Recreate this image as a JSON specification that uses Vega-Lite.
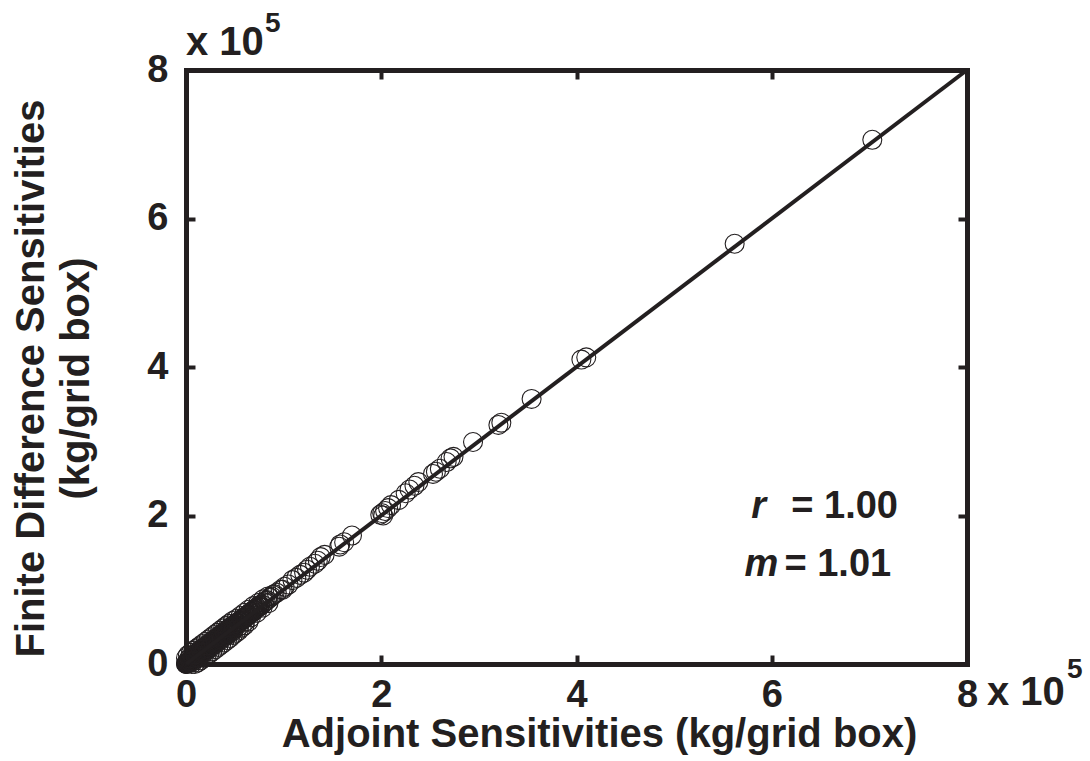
{
  "$schema": "https://vega.github.io/schema/vega-lite/v6.json",
  "autosize": "none",
  "padding": {"left": 186, "top": 70, "right": 123, "bottom": 97},
  "width": 781,
  "height": 594,
  "background": "white",
  "config": {
    "view": {"stroke": null},
    "font": "Liberation Sans",
    "axis": {
      "grid": false,
      "domainColor": "#231f20",
      "domainWidth": 5,
      "domainCap": "square",
      "tickColor": "#231f20",
      "tickWidth": 4,
      "tickSize": -9,
      "labelFont": "Liberation Sans",
      "labelFontSize": 38,
      "labelFontWeight": "bold",
      "labelColor": "#231f20",
      "titleFont": "Liberation Sans",
      "titleFontSize": 40,
      "titleFontWeight": "bold",
      "titleColor": "#231f20"
    }
  },
  "datasets": {
    "pts": [
      {"a":7.03,"f":7.06},{"a":5.62,"f":5.66},{"a":4.05,"f":4.10},{"a":4.10,"f":4.13},{"a":3.54,"f":3.57},
      {"a":3.20,"f":3.22},{"a":3.23,"f":3.25},{"a":2.94,"f":2.99},{"a":2.74,"f":2.79},{"a":2.71,"f":2.77},
      {"a":2.67,"f":2.72},{"a":2.60,"f":2.63},{"a":2.56,"f":2.59},{"a":2.53,"f":2.56},{"a":2.38,"f":2.45},
      {"a":2.34,"f":2.40},{"a":2.29,"f":2.35},{"a":2.25,"f":2.30},{"a":2.18,"f":2.21},{"a":2.10,"f":2.14},
      {"a":2.07,"f":2.10},{"a":2.04,"f":2.06},{"a":2.01,"f":2.03},{"a":1.99,"f":2.01},{"a":2.02,"f":2.00},
      {"a":1.70,"f":1.73},{"a":1.62,"f":1.64},{"a":1.58,"f":1.61},{"a":1.57,"f":1.58},{"a":1.42,"f":1.47},
      {"a":1.38,"f":1.44},{"a":1.35,"f":1.39},{"a":1.32,"f":1.35},{"a":1.27,"f":1.31},{"a":1.24,"f":1.27},
      {"a":1.21,"f":1.23},{"a":1.17,"f":1.20},{"a":1.13,"f":1.16},{"a":1.09,"f":1.13},{"a":1.05,"f":1.07},
      {"a":1.01,"f":1.04},{"a":0.99,"f":1.00},{"a":0.97,"f":1.00},{"a":0.93,"f":0.96},{"a":0.89,"f":0.93},
      {"a":0.86,"f":0.89},{"a":0.83,"f":0.86},{"a":0.80,"f":0.83},{"a":0.78,"f":0.80},{"a":0.76,"f":0.79},
      {"a":0.73,"f":0.76},{"a":0.71,"f":0.74},{"a":0.69,"f":0.71},{"a":0.67,"f":0.70},{"a":0.65,"f":0.67},
      {"a":0.63,"f":0.66},{"a":0.61,"f":0.63},{"a":0.59,"f":0.62},{"a":0.57,"f":0.59},{"a":0.55,"f":0.58},
      {"a":0.53,"f":0.55},{"a":0.52,"f":0.55},{"a":0.51,"f":0.52},{"a":0.50,"f":0.53},{"a":0.49,"f":0.50},
      {"a":0.48,"f":0.51},{"a":0.47,"f":0.50},{"a":0.46,"f":0.47},{"a":0.45,"f":0.48},{"a":0.44,"f":0.44},
      {"a":0.43,"f":0.46},{"a":0.42,"f":0.43},{"a":0.41,"f":0.44},{"a":0.40,"f":0.41},{"a":0.39,"f":0.42},
      {"a":0.38,"f":0.38},{"a":0.37,"f":0.40},{"a":0.36,"f":0.37},{"a":0.35,"f":0.38},{"a":0.34,"f":0.34},
      {"a":0.33,"f":0.36},{"a":0.32,"f":0.33},{"a":0.31,"f":0.33},{"a":0.30,"f":0.30},{"a":0.29,"f":0.32},
      {"a":0.28,"f":0.29},{"a":0.27,"f":0.28},{"a":0.26,"f":0.26},{"a":0.25,"f":0.27},{"a":0.24,"f":0.24},
      {"a":0.23,"f":0.25},{"a":0.22,"f":0.22},{"a":0.21,"f":0.23},{"a":0.20,"f":0.20},{"a":0.195,"f":0.21},
      {"a":0.19,"f":0.19},{"a":0.185,"f":0.20},{"a":0.18,"f":0.18},{"a":0.175,"f":0.19},{"a":0.17,"f":0.17},
      {"a":0.165,"f":0.18},{"a":0.16,"f":0.16},{"a":0.155,"f":0.17},{"a":0.15,"f":0.15},{"a":0.145,"f":0.16},
      {"a":0.14,"f":0.14},{"a":0.135,"f":0.15},{"a":0.13,"f":0.13},{"a":0.125,"f":0.14},{"a":0.12,"f":0.12},
      {"a":0.115,"f":0.12},{"a":0.11,"f":0.11},{"a":0.105,"f":0.11},{"a":0.10,"f":0.10},{"a":0.095,"f":0.10},
      {"a":0.09,"f":0.09},{"a":0.085,"f":0.09},{"a":0.08,"f":0.08},{"a":0.075,"f":0.08},{"a":0.07,"f":0.07},
      {"a":0.065,"f":0.07},{"a":0.06,"f":0.06},{"a":0.055,"f":0.06},{"a":0.05,"f":0.05},{"a":0.045,"f":0.05},
      {"a":0.04,"f":0.04},{"a":0.035,"f":0.04},{"a":0.03,"f":0.03},{"a":0.025,"f":0.03},{"a":0.02,"f":0.02},
      {"a":0.015,"f":0.02},{"a":0.01,"f":0.01},{"a":0.005,"f":0.01},{"a":0.0,"f":0.0},{"a":0.002,"f":0.004},
      {"a":0.004,"f":0.002},{"a":0.008,"f":0.006},{"a":0.012,"f":0.014},{"a":0.018,"f":0.016},{"a":0.022,"f":0.025},
      {"a":0.028,"f":0.027},{"a":0.032,"f":0.035},{"a":0.038,"f":0.037},{"a":0.042,"f":0.046},{"a":0.048,"f":0.047},
      {"a":0.052,"f":0.056},{"a":0.058,"f":0.057},{"a":0.062,"f":0.066},{"a":0.068,"f":0.067},{"a":0.072,"f":0.076},
      {"a":0.078,"f":0.077},{"a":0.082,"f":0.087},{"a":0.088,"f":0.088},{"a":0.092,"f":0.097},{"a":0.098,"f":0.098},
      {"a":0.11,"f":0.115},{"a":0.12,"f":0.125},{"a":0.13,"f":0.135},{"a":0.14,"f":0.146},{"a":0.15,"f":0.156},
      {"a":0.16,"f":0.166},{"a":0.17,"f":0.175},{"a":0.18,"f":0.186},{"a":0.19,"f":0.197},{"a":0.21,"f":0.218},
      {"a":0.23,"f":0.238},{"a":0.25,"f":0.259},{"a":0.27,"f":0.28},{"a":0.29,"f":0.30},{"a":0.31,"f":0.32},
      {"a":0.33,"f":0.34},{"a":0.35,"f":0.36},{"a":0.37,"f":0.385},{"a":0.39,"f":0.405},{"a":0.41,"f":0.425},
      {"a":0.43,"f":0.445},{"a":0.45,"f":0.465},{"a":0.47,"f":0.485},{"a":0.49,"f":0.505},{"a":0.56,"f":0.57},
      {"a":0.58,"f":0.60},{"a":0.60,"f":0.61},{"a":0.62,"f":0.64},{"a":0.64,"f":0.66},{"a":0.66,"f":0.68},
      {"a":0.68,"f":0.70},{"a":0.70,"f":0.72},{"a":0.72,"f":0.75},{"a":0.75,"f":0.77},
      {"a":0.02,"f":0.05},{"a":0.05,"f":0.02},{"a":0.04,"f":0.08},{"a":0.08,"f":0.05},{"a":0.07,"f":0.11},
      {"a":0.11,"f":0.08},{"a":0.10,"f":0.14},{"a":0.14,"f":0.11},{"a":0.13,"f":0.17},{"a":0.17,"f":0.14},
      {"a":0.16,"f":0.20},{"a":0.20,"f":0.17},{"a":0.19,"f":0.23},{"a":0.23,"f":0.21},{"a":0.22,"f":0.26},
      {"a":0.26,"f":0.24},{"a":0.25,"f":0.29},{"a":0.29,"f":0.27},{"a":0.28,"f":0.32},{"a":0.32,"f":0.30},
      {"a":0.31,"f":0.35},{"a":0.35,"f":0.33},{"a":0.34,"f":0.38},{"a":0.38,"f":0.36},{"a":0.37,"f":0.41},
      {"a":0.41,"f":0.39},{"a":0.40,"f":0.44},{"a":0.44,"f":0.42},{"a":0.43,"f":0.47},{"a":0.47,"f":0.45},
      {"a":0.46,"f":0.50},{"a":0.50,"f":0.48},{"a":0.54,"f":0.57},{"a":0.58,"f":0.61},{"a":0.62,"f":0.65},
      {"a":0.66,"f":0.69},{"a":0.70,"f":0.73},{"a":0.74,"f":0.78},
      {"a":0.06,"f":0.0},{"a":0.09,"f":0.0},{"a":0.12,"f":0.02},{"a":0.15,"f":0.05},{"a":0.18,"f":0.08},
      {"a":0.21,"f":0.11},{"a":0.24,"f":0.14},{"a":0.27,"f":0.17},{"a":0.30,"f":0.20},{"a":0.33,"f":0.23},
      {"a":0.36,"f":0.26},{"a":0.39,"f":0.29},{"a":0.42,"f":0.32},{"a":0.45,"f":0.35},{"a":0.48,"f":0.39},
      {"a":0.51,"f":0.42},{"a":0.54,"f":0.45},{"a":0.57,"f":0.49},{"a":0.60,"f":0.52},{"a":0.64,"f":0.57},
      {"a":0.0,"f":0.08},{"a":0.02,"f":0.12},{"a":0.05,"f":0.15},{"a":0.08,"f":0.18},{"a":0.11,"f":0.21},
      {"a":0.14,"f":0.24},{"a":0.17,"f":0.27},{"a":0.20,"f":0.30},{"a":0.23,"f":0.33},{"a":0.26,"f":0.36},
      {"a":0.29,"f":0.39},{"a":0.32,"f":0.42},{"a":0.35,"f":0.45},{"a":0.38,"f":0.48},{"a":0.41,"f":0.51},
      {"a":0.44,"f":0.54},{"a":0.48,"f":0.58},{"a":0.52,"f":0.61},{"a":0.56,"f":0.65},{"a":0.60,"f":0.69},
      {"a":0.64,"f":0.73},{"a":0.69,"f":0.78},{"a":0.74,"f":0.82},{"a":0.79,"f":0.87},{"a":0.84,"f":0.91},
      {"a":0.035,"f":0.075},{"a":0.065,"f":0.035},{"a":0.095,"f":0.13},{"a":0.125,"f":0.09},{"a":0.155,"f":0.19},
      {"a":0.185,"f":0.15},{"a":0.215,"f":0.25},{"a":0.245,"f":0.21},{"a":0.275,"f":0.31},{"a":0.305,"f":0.27},
      {"a":0.335,"f":0.37},{"a":0.365,"f":0.33},{"a":0.395,"f":0.43},{"a":0.425,"f":0.39},{"a":0.455,"f":0.49},
      {"a":0.485,"f":0.45},{"a":0.515,"f":0.55},{"a":0.545,"f":0.51},{"a":0.575,"f":0.61},{"a":0.605,"f":0.57},
      {"a":0.635,"f":0.67},{"a":0.665,"f":0.63},{"a":0.695,"f":0.73},{"a":0.725,"f":0.69},{"a":0.755,"f":0.79},
      {"a":0.785,"f":0.76},{"a":0.815,"f":0.85},{"a":0.845,"f":0.82},{"a":0.875,"f":0.91},{"a":0.905,"f":0.94}
    ],
    "fit": [{"a":0,"f":0},{"a":8,"f":8}],
    "one": [{}]
  },
  "layer": [
    {
      "data": {"name": "pts"},
      "mark": {"type": "point", "shape": "circle", "filled": false, "size": 360, "strokeWidth": 1.1, "color": "#231f20", "opacity": 1},
      "encoding": {
        "x": {"field": "a", "type": "quantitative", "scale": {"domain": [0, 8], "nice": false, "zero": false},
          "axis": {"orient": "bottom", "values": [0, 2, 4, 6, 8], "labelPadding": 21, "labelBaseline": "top", "labelFlush": false,
            "title": "Adjoint Sensitivities (kg/grid box)", "titleX": 413, "titleY": 82, "titleBaseline": "alphabetic", "titleAlign": "center", "titleAnchor": null}},
        "y": {"field": "f", "type": "quantitative", "scale": {"domain": [0, 8], "nice": false, "zero": false},
          "axis": {"orient": "left", "values": [0, 2, 4, 6, 8], "labelPadding": 27, "labelFlush": false, "labelBaseline": "middle",
            "title": ["Finite Difference Sensitivities", "(kg/grid box)"], "titleX": -143, "titleY": 308, "titleAngle": 270, "titleBaseline": "alphabetic", "titleAlign": "center", "titleLineHeight": 45, "titleAnchor": null}}
      }
    },
    {
      "data": {"name": "fit"},
      "mark": {"type": "line", "color": "#231f20", "strokeWidth": 4},
      "encoding": {
        "x": {"field": "a", "type": "quantitative", "axis": {"orient": "top", "values": [0, 2, 4, 6, 8], "labels": false, "title": null}},
        "y": {"field": "f", "type": "quantitative", "axis": {"orient": "right", "values": [0, 2, 4, 6, 8], "labels": false, "title": null}}
      }
    },
    {
      "data": {"name": "one"},
      "mark": {"type": "text", "font": "Liberation Sans", "fontWeight": "bold", "fontSize": 40, "color": "#231f20", "align": "left", "baseline": "alphabetic", "dy": -15},
      "encoding": {"x": {"datum": 0, "axis": null}, "y": {"datum": 8, "axis": null}, "text": {"value": "x 10"}}
    },
    {
      "data": {"name": "one"},
      "mark": {"type": "text", "font": "Liberation Sans", "fontWeight": "bold", "fontSize": 28, "color": "#231f20", "align": "left", "baseline": "alphabetic", "dx": 79, "dy": -38},
      "encoding": {"x": {"datum": 0, "axis": null}, "y": {"datum": 8, "axis": null}, "text": {"value": "5"}}
    },
    {
      "data": {"name": "one"},
      "mark": {"type": "text", "font": "Liberation Sans", "fontWeight": "bold", "fontSize": 40, "color": "#231f20", "align": "left", "baseline": "alphabetic", "dx": 20, "dy": 41},
      "encoding": {"x": {"datum": 8, "axis": null}, "y": {"datum": 0, "axis": null}, "text": {"value": "x 10"}}
    },
    {
      "data": {"name": "one"},
      "mark": {"type": "text", "font": "Liberation Sans", "fontWeight": "bold", "fontSize": 28, "color": "#231f20", "align": "left", "baseline": "alphabetic", "dx": 100, "dy": 14},
      "encoding": {"x": {"datum": 8, "axis": null}, "y": {"datum": 0, "axis": null}, "text": {"value": "5"}}
    },
    {
      "data": {"name": "one"},
      "mark": {"type": "text", "font": "Liberation Sans", "fontWeight": "bold", "fontStyle": "italic", "fontSize": 38, "color": "#231f20", "align": "left", "baseline": "alphabetic"},
      "encoding": {"x": {"datum": 5.79, "axis": null}, "y": {"datum": 1.97, "axis": null}, "text": {"value": "r"}}
    },
    {
      "data": {"name": "one"},
      "mark": {"type": "text", "font": "Liberation Sans", "fontWeight": "bold", "fontSize": 38, "color": "#231f20", "align": "left", "baseline": "alphabetic"},
      "encoding": {"x": {"datum": 6.2, "axis": null}, "y": {"datum": 1.97, "axis": null}, "text": {"value": "= 1.00"}}
    },
    {
      "data": {"name": "one"},
      "mark": {"type": "text", "font": "Liberation Sans", "fontWeight": "bold", "fontStyle": "italic", "fontSize": 38, "color": "#231f20", "align": "left", "baseline": "alphabetic"},
      "encoding": {"x": {"datum": 5.72, "axis": null}, "y": {"datum": 1.19, "axis": null}, "text": {"value": "m"}}
    },
    {
      "data": {"name": "one"},
      "mark": {"type": "text", "font": "Liberation Sans", "fontWeight": "bold", "fontSize": 38, "color": "#231f20", "align": "left", "baseline": "alphabetic"},
      "encoding": {"x": {"datum": 6.13, "axis": null}, "y": {"datum": 1.19, "axis": null}, "text": {"value": "= 1.01"}}
    }
  ],
  "resolve": {"axis": {"x": "independent", "y": "independent"}}
}
